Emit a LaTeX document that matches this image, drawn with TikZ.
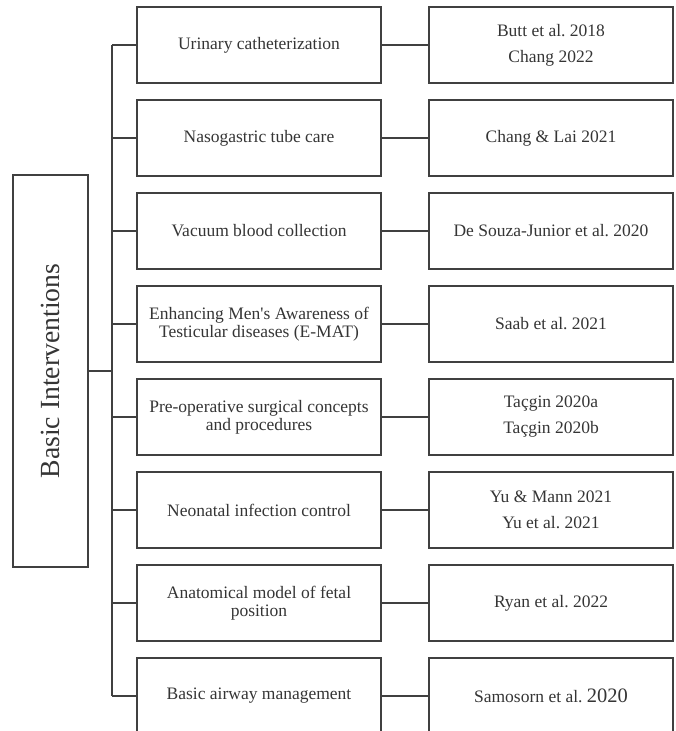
\documentclass[tikz,border=0pt]{standalone}
\usepackage{fontspec}
\setmainfont{Liberation Serif}
\frenchspacing
\definecolor{linegray}{HTML}{404040}
\definecolor{textgray}{HTML}{353535}
\begin{document}
\begin{tikzpicture}[x=1pt,y=-1pt,
  box/.style={draw=linegray, line width=1.8pt, minimum width=244pt, minimum height=76pt,
    inner sep=0pt, align=center, text=textgray, font=\fontsize{17.5}{18}\selectfont},
  refbox/.style={box, font=\fontsize{17.5}{26}\selectfont},
  mainbox/.style={draw=linegray, line width=1.8pt, minimum width=75pt, minimum height=392pt,
    inner sep=0pt, text=textgray},
  conn/.style={draw=linegray, line width=2pt}]
\useasboundingbox (0,0) rectangle (676,731);
\node[mainbox] (main) at (50.5,371) {};
\node[rotate=90, text=textgray, font=\fontsize{27.7}{30}\selectfont, inner sep=0pt] (mainlabel) at (main.center) {Basic Interventions};
\coordinate (trunk) at (112,0);
\foreach \i/\yy/\lt/\rt in {
  1/45/{Urinary catheterization}/{Butt et al. 2018\\Chang 2022},
  2/138/{Nasogastric tube care}/{Chang \& Lai 2021},
  3/231/{Vacuum blood collection}/{De Souza-Junior et al. 2020},
  4/324/{Enhancing Men\textquotesingle s Awareness of\\Testicular diseases (E-MAT)}/{Saab et al. 2021},
  5/417/{Pre-operative surgical concepts\\and procedures}/{Taçgin 2020a\\Taçgin 2020b},
  6/510/{Neonatal infection control}/{Yu \& Mann 2021\\Yu et al. 2021},
  7/603/{Anatomical model of fetal\\position}/{Ryan et al. 2022},
  8/696/{Basic airway management}/{Samosorn et al. {\fontsize{20.5}{24}\selectfont 2020}}}{
  \node[box] (l\i) at (259,\yy) {\lt};
  \node[refbox] (r\i) at (551,\yy) {\rt};
  \draw[conn] (l\i.east) -- (r\i.west);
  \draw[conn] (l\i.west -| trunk) -- (l\i.west);
}
\draw[conn] (l1.west -| trunk) -- (l8.west -| trunk);
\draw[conn] (main.east) -- (main.east -| trunk);
\end{tikzpicture}
\end{document}
